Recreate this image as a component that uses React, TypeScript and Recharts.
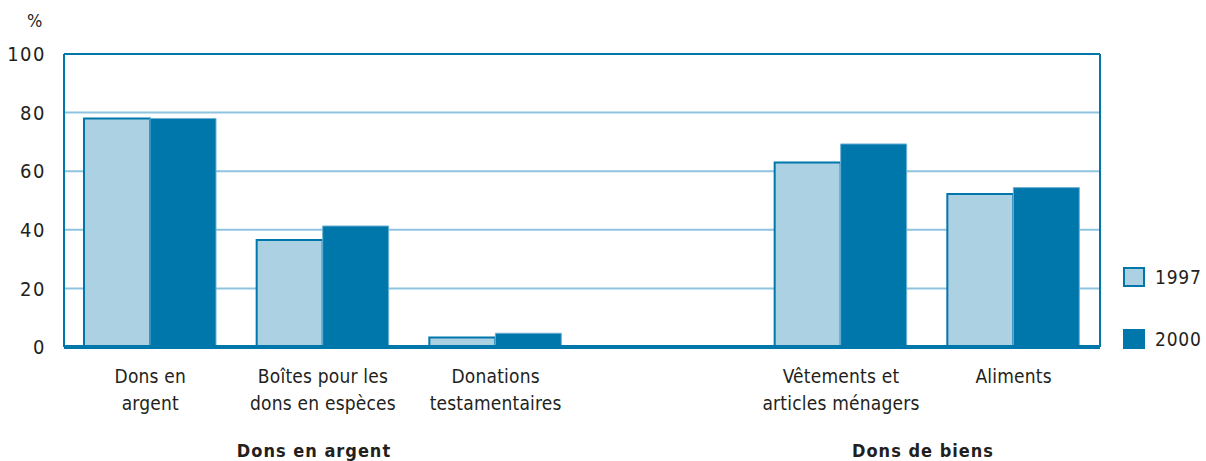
import { BarChart, Bar, XAxis, YAxis, CartesianGrid, ReferenceLine, Legend } from 'recharts'

const categories = [
  'Dons en\nargent',
  'Boîtes pour les\ndons en espèces',
  'Donations\ntestamentaires',
  '',
  'Vêtements et\narticles ménagers',
  'Aliments'
]
const values1997 = [78, 36.5, 3.2, null, 63, 52.2]
const values2000 = [78, 41.3, 4.7, null, 69.3, 54.4]
const yTicks = [0, 20, 40, 60, 80, 100]
const groupLabels = [
  { text: 'Dons en argent', center: 314 },
  { text: 'Dons de biens', center: 923 }
]

const data = categories.map((c, i) => ({ cat: c, y1997: values1997[i], y2000: values2000[i] }))

const FONT = '"Liberation Sans Narrow", "DejaVu Sans Condensed", "Arial Narrow", sans-serif'
const TEXT = '#231f20'
const LIGHT = '#abd1e3'
const DARK = '#0077aa'
const GRID = '#8ec4df'

const CatTick = (props: any) => {
  const { x, y, payload } = props
  const lines = String(payload.value).split('\n')
  return (
    <text x={x} y={y} textAnchor="middle" fill={TEXT} fontFamily={FONT} fontSize={19} letterSpacing={0.2}>
      {lines.map((l, i) => (
        <tspan key={i} x={x} dy={i === 0 ? 28 : 27}>{l}</tspan>
      ))}
    </text>
  )
}

const LegendBox = (props: any) => {
  const items = props.payload || []
  return (
    <div>
      {items.map((it: any, i: number) => (
        <div key={i} style={{ display: 'flex', alignItems: 'center', height: 22, marginBottom: i === 0 ? 40 : 0 }}>
          <span style={{
            display: 'inline-block', width: 22, height: 20, background: it.color,
            border: `2px solid ${DARK}`, boxSizing: 'border-box', marginRight: 10
          }} />
          <span style={{ fontFamily: FONT, fontSize: 19, color: TEXT, letterSpacing: 0.8 }}>{it.value}</span>
        </div>
      ))}
    </div>
  )
}

export default function App() {
  return (
    <div style={{ position: 'absolute', left: 0, top: 0, width: 1206, height: 461, background: '#fff' }}>
      <div style={{ position: 'absolute', left: 27, top: 10, fontFamily: FONT, fontSize: 18, color: TEXT }}>%</div>
      <BarChart
        width={1206}
        height={461}
        data={data}
        barGap={0}
        barSize={66}
        margin={{ top: 54, right: 105, left: 0, bottom: 54 }}
      >
        <CartesianGrid horizontal vertical={false} stroke={GRID} strokeWidth={2} />
        <XAxis
          dataKey="cat"
          height={60}
          tick={<CatTick />}
          tickLine={false}
          interval={0}
          axisLine={{ stroke: DARK, strokeWidth: 4 }}
        />
        <YAxis
          domain={[0, 100]}
          ticks={yTicks}
          width={64}
          tickLine={false}
          tickSize={0}
          tickMargin={18}
          axisLine={{ stroke: DARK, strokeWidth: 2 }}
          tick={{ fill: TEXT, fontFamily: FONT, fontSize: 20, letterSpacing: 1.5 }}
        />
        <YAxis
          yAxisId="right"
          orientation="right"
          domain={[0, 100]}
          width={1}
          tick={false}
          tickLine={false}
          axisLine={{ stroke: DARK, strokeWidth: 2 }}
        />
        <ReferenceLine y={100} stroke={DARK} strokeWidth={2} />
        <Legend
          layout="vertical"
          content={<LegendBox />}
          wrapperStyle={{ position: 'absolute', left: 1123, top: 266, width: 82, height: 0, overflow: 'visible' }}
        />
        <Bar dataKey="y1997" name="1997" fill={LIGHT} stroke={DARK} strokeWidth={2} isAnimationActive={false} />
        <Bar dataKey="y2000" name="2000" fill={DARK} stroke="#6fb2d6" strokeWidth={1} isAnimationActive={false} />
      </BarChart>
      {groupLabels.map((g) => (
        <div
          key={g.text}
          style={{
            position: 'absolute', left: g.center - 100, width: 200, top: 440, textAlign: 'center',
            fontFamily: FONT, fontWeight: 'bold', fontSize: 18, letterSpacing: 1, color: TEXT
          }}
        >
          {g.text}
        </div>
      ))}
    </div>
  )
}
